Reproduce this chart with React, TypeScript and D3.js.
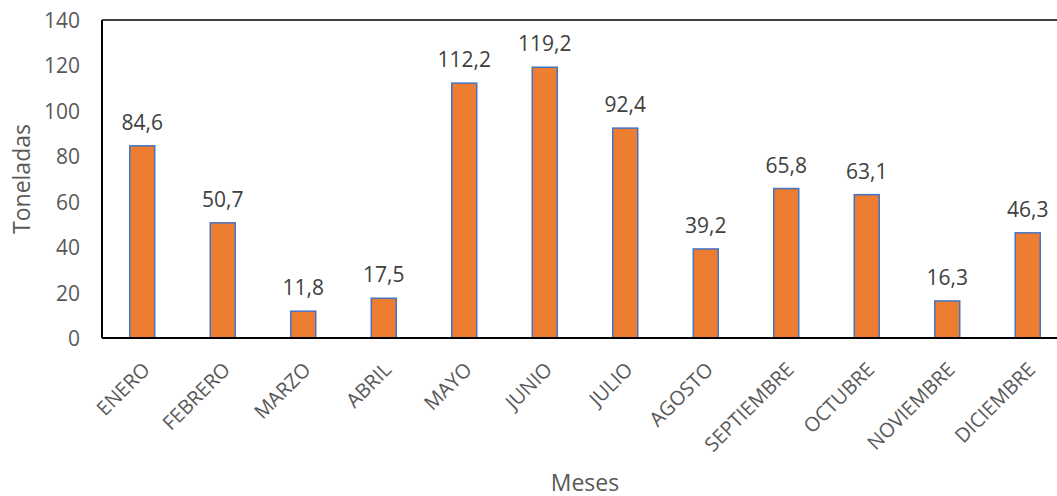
import React from "react";
import * as d3 from "d3";

const months = ["ENERO","FEBRERO","MARZO","ABRIL","MAYO","JUNIO","JULIO","AGOSTO","SEPTIEMBRE","OCTUBRE","NOVIEMBRE","DICIEMBRE"];
const values = [84.6, 50.7, 11.8, 17.5, 112.2, 119.2, 92.4, 39.2, 65.8, 63.1, 16.3, 46.3];
const yTicks = [0, 20, 40, 60, 80, 100, 120, 140];

const W = 1057, H = 496;
const left = 102, top = 20, bottom = 338, right = 1068;
const font = "'Open Sans', sans-serif";
const grey = "#595959";

export default function App() {
  const x = d3.scaleBand<string>().domain(months).range([left, right]).paddingInner(0.69).paddingOuter(0.345);
  const y = d3.scaleLinear().domain([0, 140]).range([bottom, top]);
  const fmt = (v: number) => v.toFixed(1).replace(".", ",");
  return (
    <svg width={W} height={H} style={{ position: "absolute", left: 0, top: 0 }} fontFamily={font}>
      <rect x={0} y={0} width={W} height={H} fill="#fff" />
      {months.map((m, i) => (
        <g key={m}>
          <rect x={x(m)!} y={y(values[i])} width={x.bandwidth()} height={bottom - y(values[i])}
            fill="#ED7D31" stroke="#4472C4" strokeWidth={1.5} />
          <text x={x(m)! + x.bandwidth() / 2} y={y(values[i]) - 16} textAnchor="middle" fontSize={21} fill="#404040">{fmt(values[i])}</text>
          <text transform={`translate(${x(m)! + x.bandwidth() / 2 - 3},${bottom + 21}) rotate(-45)`} textAnchor="end" dominantBaseline="hanging" fontSize={20} fill={grey}>{m}</text>
        </g>
      ))}
      <line x1={left} x2={W} y1={top} y2={top} stroke="#000" strokeWidth={1.5} />
      <line x1={left} x2={left} y1={top} y2={bottom} stroke="#000" strokeWidth={2} />
      <line x1={left} x2={W} y1={bottom} y2={bottom} stroke="#000" strokeWidth={2} />
      {yTicks.map(t => (
        <text key={t} x={80} y={y(t)} textAnchor="end" dominantBaseline="central" fontSize={21} fill={grey}>{t}</text>
      ))}
      <text transform={`translate(21,${(top + bottom) / 2}) rotate(-90)`} textAnchor="middle" dominantBaseline="central" fontSize={23} fill={grey}>Toneladas</text>
      <text x={(left + right) / 2} y={491} textAnchor="middle" fontSize={23} fill={grey}>Meses</text>
    </svg>
  );
}
